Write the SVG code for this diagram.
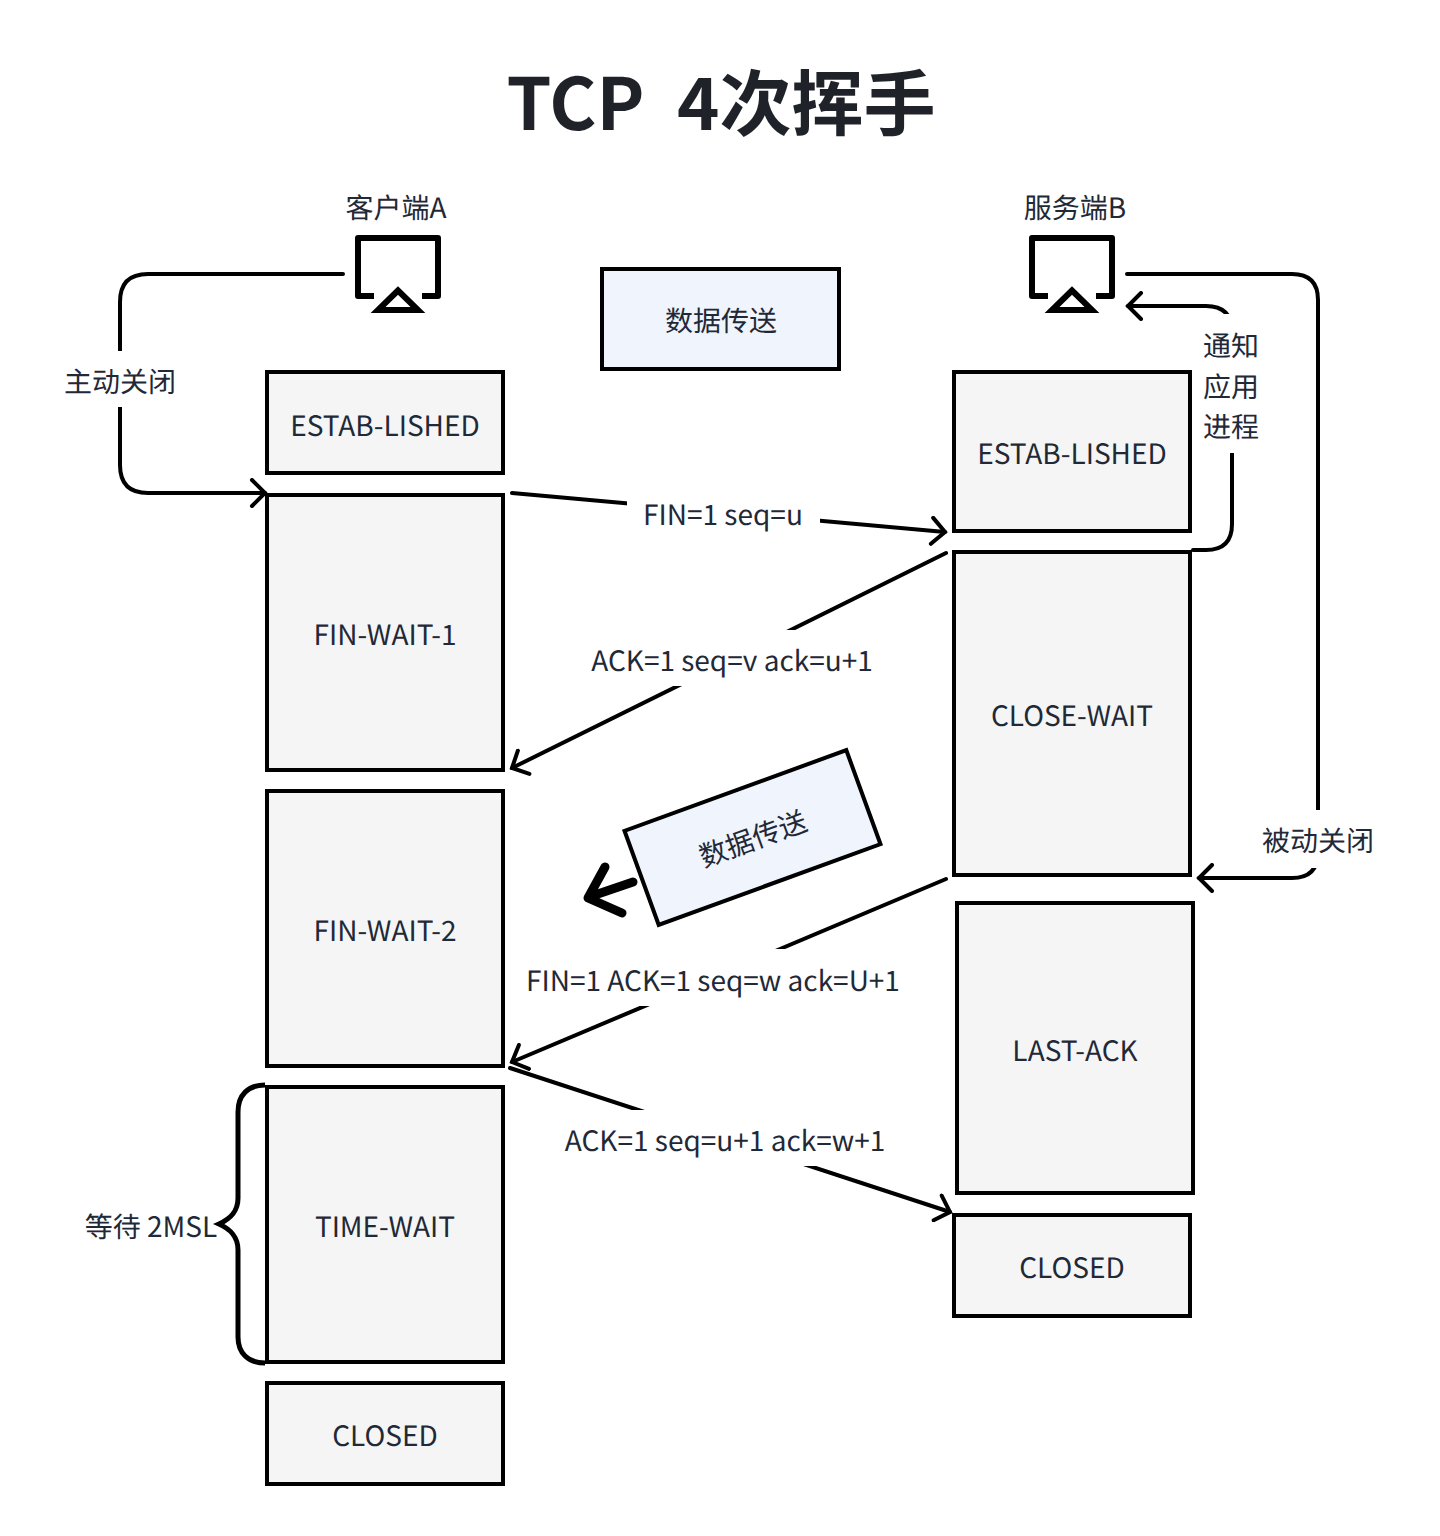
<svg xmlns="http://www.w3.org/2000/svg" width="1440" height="1536" viewBox="0 0 1440 1536">
<style>
text{font-family:"Noto Sans CJK SC","Noto Sans",sans-serif;font-size:28px;fill:#1f2937;text-anchor:middle;text-rendering:geometricPrecision}
.title{font-size:72px;font-weight:700;white-space:pre;fill:#1f2329}
.s{fill:#f5f5f5;stroke:#000;stroke-width:4}
.d{fill:#eff4fd;stroke:#000;stroke-width:4}
.c{fill:none;stroke:#000;stroke-width:4;stroke-linecap:round}
.i{fill:none;stroke:#000;stroke-width:6;stroke-linejoin:round}
.t{fill:none;stroke:#000;stroke-width:6}
.b{fill:none;stroke:#000;stroke-width:5}
.bg{fill:#fff}
</style>
<defs>
<marker id="arrow" markerUnits="userSpaceOnUse" markerWidth="30" markerHeight="30" refX="17" refY="15" orient="auto"><path d="M4 2 L17 15 L4 28" fill="none" stroke="#000" stroke-width="4" stroke-linecap="round"/></marker>
<g id="icon"><path class="i" d="M374 296H358V238H438V296H422"/><path class="t" d="M398 290.500L378 310H418Z"/></g>
</defs>
<rect width="1440" height="1536" fill="#fff"/>
<text id="title" class="title" x="721" y="130">TCP  4次挥手</text>
<g id="connectors">
<path class="c" d="M343 274H148Q120 274 120 302V465Q120 493 148 493H265" marker-end="url(#arrow)"/>
<path class="c" d="M1127 274H1292Q1318 274 1318 300V852Q1318 878 1292 878H1199" marker-end="url(#arrow)"/>
<path class="c" d="M1193 550H1206Q1232 550 1232 524V332Q1232 306 1206 306H1128" marker-end="url(#arrow)"/>
<path class="c" d="M512 493L945 532" marker-end="url(#arrow)"/>
<path class="c" d="M946 553L512 768" marker-end="url(#arrow)"/>
<path class="c" d="M946 879L512 1062" marker-end="url(#arrow)"/>
<path class="c" d="M510 1068L950 1212" marker-end="url(#arrow)"/>
<path d="M633 882L589 897M605 867L588 898L622 913" fill="none" stroke="#000" stroke-width="9" stroke-linecap="round" stroke-linejoin="round"/>
<path class="b" d="M265 1085C248 1085 238 1095 238 1112V1198C238 1212 230 1219 219 1224C230 1229 238 1236 238 1250V1337C238 1353 248 1363 265 1363"/>
</g>
<g id="client"><use href="#icon"/><text x="396" y="218">客户端A</text></g>
<g id="server"><use href="#icon" x="674"/><text x="1075" y="218">服务端B</text></g>
<g id="transfer1"><rect class="d" x="602" y="269" width="237" height="100"/><text x="721" y="331">数据传送</text></g>
<g id="transfer2" transform="rotate(-20 752.500 837.500)"><rect class="d" x="634.500" y="787.500" width="236" height="100"/><text x="752.500" y="849">数据传送</text></g>
<g id="a-established"><rect class="s" x="267" y="372" width="236" height="101"/><text x="385" y="436">ESTAB-LISHED</text></g>
<g id="a-fin1"><rect class="s" x="267" y="495" width="236" height="275"/><text x="385" y="645">FIN-WAIT-1</text></g>
<g id="a-fin2"><rect class="s" x="267" y="791" width="236" height="275"/><text x="385" y="941">FIN-WAIT-2</text></g>
<g id="a-time"><rect class="s" x="267" y="1087" width="236" height="275"/><text x="385" y="1237">TIME-WAIT</text></g>
<g id="a-closed"><rect class="s" x="267" y="1383" width="236" height="101"/><text x="385" y="1446">CLOSED</text></g>
<g id="b-established"><rect class="s" x="954" y="372" width="236" height="159"/><text x="1072" y="464">ESTAB-LISHED</text></g>
<g id="b-close"><rect class="s" x="954" y="552" width="236" height="323"/><text x="1072" y="726">CLOSE-WAIT</text></g>
<g id="b-last"><rect class="s" x="957" y="903" width="236" height="290"/><text x="1075" y="1061">LAST-ACK</text></g>
<g id="b-closed"><rect class="s" x="954" y="1215" width="236" height="101"/><text x="1072" y="1278">CLOSED</text></g>
<g id="labels">
<rect class="bg" x="65" y="351" width="110" height="56"/><text x="120" y="392">主动关闭</text>
<rect class="bg" x="1204" y="314" width="56" height="139"/><text x="1231" y="356">通知</text><text x="1231" y="397">应用</text><text x="1231" y="437">进程</text>
<rect class="bg" x="1262" y="810" width="112" height="58"/><text x="1318" y="851">被动关闭</text>
<rect class="bg" x="627" y="498" width="193" height="56"/><text x="723" y="525">FIN=1 seq=u</text>
<rect class="bg" x="591" y="630" width="283" height="56"/><text x="732" y="671">ACK=1 seq=v ack=u+1</text>
<rect class="bg" x="526" y="949" width="374" height="57"/><text x="713" y="991">FIN=1 ACK=1 seq=w ack=U+1</text>
<rect class="bg" x="564" y="1110" width="322" height="56"/><text x="725" y="1151">ACK=1 seq=u+1 ack=w+1</text>
<text x="151" y="1237">等待 2MSL</text>
</g>
</svg>
